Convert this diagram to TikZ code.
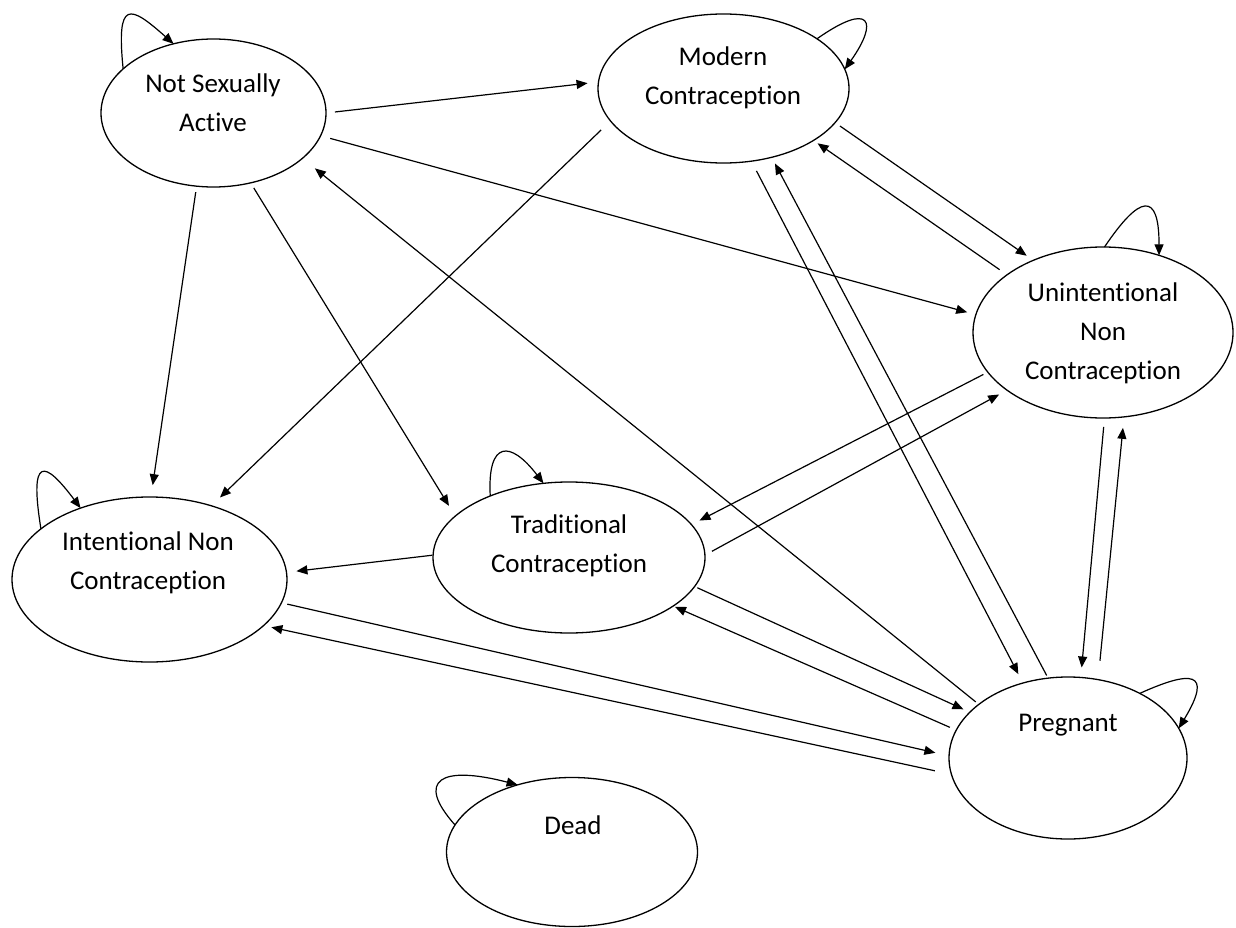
\documentclass[tikz,border=0pt]{standalone}
\usepackage{fontspec}
\setmainfont{Carlito}[Ligatures=NoCommon]
\usetikzlibrary{arrows.meta,shapes.geometric}

\begin{document}
\begin{tikzpicture}[x=1pt,y=-1pt,
  state/.style={draw,ellipse,line width=1.3pt,inner sep=0pt,outer sep=0pt},
  lbl/.style={align=center,font=\fontsize{27}{39}\selectfont},
  arr/.style={line width=1.2pt,-{Triangle[length=11pt,width=9pt]}}]
\useasboundingbox (0,0) rectangle (1236,928);
\node[state,minimum width=225pt,minimum height=148pt] (nsa) at (213.5,113) {};
\node[state,minimum width=251pt,minimum height=149pt] (mod) at (723.5,88.5) {};
\node[state,minimum width=260pt,minimum height=171pt] (unc) at (1103,332.5) {};
\node[state,minimum width=275pt,minimum height=165pt] (inc) at (149.5,579.5) {};
\node[state,minimum width=272pt,minimum height=151pt] (trad) at (569,557.5) {};
\node[state,minimum width=238pt,minimum height=162pt] (preg) at (1068,758) {};
\node[state,minimum width=251pt,minimum height=149pt] (dead) at (572,852) {};
\node[lbl] (nsa-t) at (213,103) {Not Sexually\\Active};
\node[lbl] (mod-t) at (723,78) {Modern\\Contraception};
\node[lbl] (unc-t) at (1103,333) {Unintentional\\Non\\Contraception};
\node[lbl] (inc-t) at (148,563) {Intentional Non\\Contraception};
\node[lbl] (trad-t) at (569,546) {Traditional\\Contraception};
\node[lbl] (preg-t) at (1068,725) {Pregnant};
\node[lbl] (dead-t) at (573,825) {Dead};
% transitions
\foreach \src/\dst/\gapA/\gapB in {nsa.0/mod.177/9/11,nsa.-12/unc.172/10/9,nsa.-103/inc.89/6/12,
  nsa.-62/trad.160/6/12,preg.149/nsa.-27/4/16,mod.196/inc.50/13/12,mod.-17/unc.134/6/8,
  unc.149/mod.-30/9/5,mod.-69/preg.121/11/10,preg.104/mod.-55/3/7,unc.199/trad.15/5/9,
  trad.1/unc.211/8/9,unc.-89/preg.81/9/10,preg.69/unc.-76/19/11,trad.179/inc.3/1/10,
  trad.-13/preg.155/3/7,preg.166/trad.-25/7/2,inc.-10/preg.179/6/14,preg.188/inc.-22/17/8}
  \draw[arr,shorten <=\gapA pt,shorten >=\gapB pt] (\src) -- (\dst);
% stay in the same state
\foreach \n/\p/\q/\ax/\ay/\bx/\by in {nsa/154/120/-7/-70/-44/-39,mod/28/9/54/-38/34/-48,
  unc/89/54/35/-52/0/-65,inc/155/134/-12/-74/-36/-48,trad/142/109/-3/-56/-33/-43,
  preg/42/15/51/-23/35/-58,dead/167/129/-40/-45/-77/-20}
  \draw[arr] (\n.\p) .. controls +(\ax,\ay) and +(\bx,\by) .. (\n.\q);
\end{tikzpicture}
\end{document}
